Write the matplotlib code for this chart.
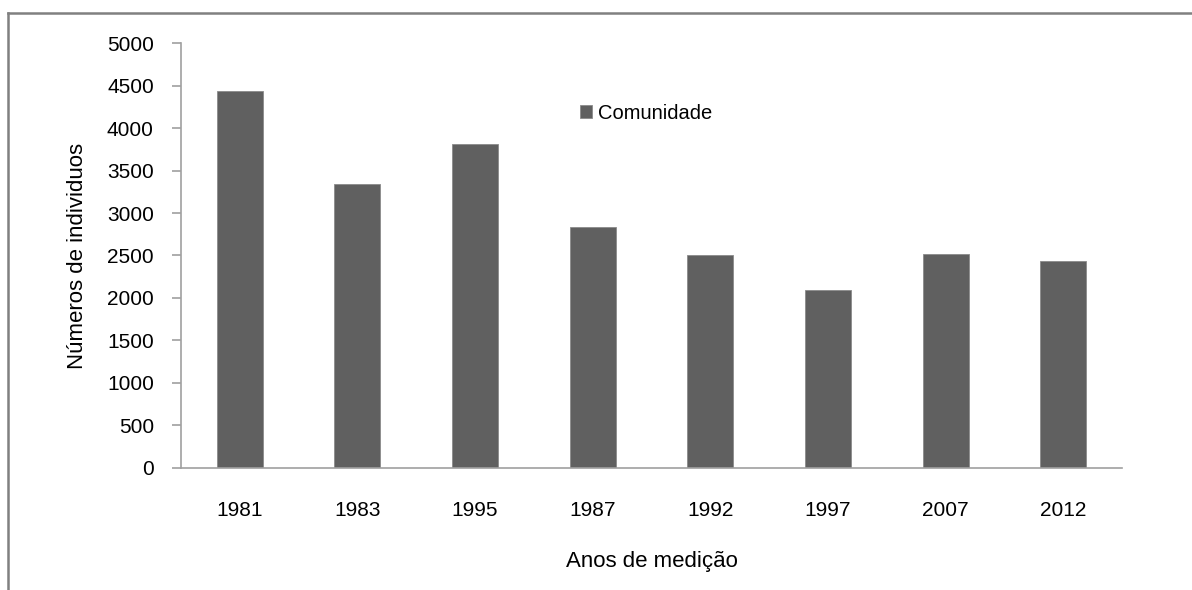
import matplotlib
matplotlib.use("Agg")
import matplotlib.pyplot as plt
from matplotlib.lines import Line2D

anos = ['1981', '1983', '1995', '1987', '1992', '1997', '2007', '2012']
individuos = [4440, 3345, 3810, 2835, 2505, 2095, 2515, 2435]

plt.rcParams['font.family'] = ['Liberation Sans Narrow', 'Liberation Sans', 'DejaVu Sans']

fig = plt.figure(figsize=(11.92, 5.9), dpi=100)
ax = fig.add_axes([0.1518, 0.2068, 0.7895, 0.7203])

ax.bar(range(len(anos)), individuos, width=0.39, color='#606060',
       edgecolor='#8a8a8a', linewidth=0.6, label='Comunidade')
ax.set_xlim(-0.5, len(anos) - 0.5)
ax.set_ylim(0, 5000)
ax.set_yticks(range(0, 5001, 500))
ax.set_xticks(range(len(anos)))
ax.set_xticklabels(anos)

for s in ['top', 'right']:
    ax.spines[s].set_visible(False)
for s in ['left', 'bottom']:
    ax.spines[s].set_color('#a0a0a0')
    ax.spines[s].set_linewidth(1.2)
ax.tick_params(axis='y', length=6.5, width=1.2, color='#a0a0a0', pad=13, labelsize=15)
ax.tick_params(axis='x', length=0, pad=24, labelsize=15)

ax.set_ylabel('Números de individuos', fontsize=16, labelpad=14)
ax.set_xlabel('Anos de medição', fontsize=16, labelpad=22)

ax.legend(loc='upper left', bbox_to_anchor=(0.405, 0.90), frameon=False,
          fontsize=14.5, handlelength=0.6, handleheight=0.6, handletextpad=0.3)

# outer frame (top and left only, as in the cropped original)
fig.add_artist(Line2D([8 / 1192, 1], [1 - 13 / 590, 1 - 13 / 590],
                      transform=fig.transFigure, color='#808080', linewidth=1.8))
fig.add_artist(Line2D([8 / 1192, 8 / 1192], [0, 1 - 13 / 590],
                      transform=fig.transFigure, color='#808080', linewidth=1.8))

fig.savefig('out.png', dpi=100)
